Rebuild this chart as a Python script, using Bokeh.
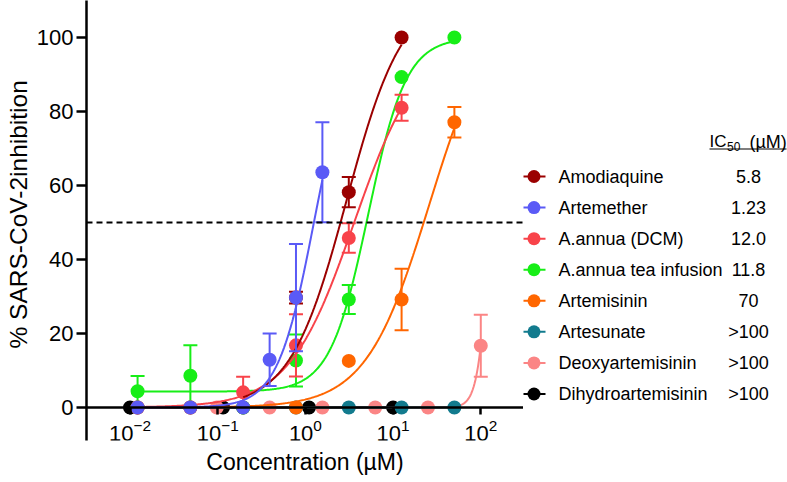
import numpy as np
from bokeh.plotting import figure
from bokeh.layouts import row
from bokeh.models import Range1d, FixedTicker, Span, Title
from bokeh.core.properties import value
from bokeh.embed import file_html
from bokeh.resources import INLINE

FONT = "Liberation Sans"

# ---------------- data ----------------
names = ["Amodiaquine", "Artemether", "A.annua (DCM)", "A.annua tea infusion",
         "Artemisinin", "Artesunate", "Deoxyartemisinin", "Dihydroartemisinin"]
ic50_text = ["5.8", "1.23", "12.0", "11.8", "70", ">100", ">100", ">100"]
colors = ["#9B0000", "#5A5AF6", "#F8434A", "#17EE17",
          "#FF6600", "#127B8E", "#FB8585", "#000000"]

amodiaquine_x = [0.781, 3.125, 12.5]
amodiaquine_y = [29.7, 58.2, 100]
amodiaquine_err = [1.6, 4.1, 0]

artemether_x = [0.0122, 0.0488, 0.195, 0.391, 0.781, 1.5625]
artemether_y = [0, 0, 0, 12.9, 29.7, 63.6]
artemether_err = [0, 0, 0, 7.1, 14.5, 13.5]

dcm_x = [0.0122, 0.0488, 0.195, 0.781, 3.125, 12.5]
dcm_y = [0, 0, 4.1, 16.8, 45.8, 81.0]
dcm_err = [0, 0, 4.2, 8.4, 4.0, 3.5]

tea_x = [0.0122, 0.0488, 0.195, 0.781, 3.125, 12.5, 50]
tea_y = [4.4, 8.6, 0, 12.7, 29.2, 89.3, 100]
tea_err = [4.1, 8.2, 0, 7.0, 3.9, 0, 0]

artemisinin_x = [0.0122, 0.0488, 0.195, 0.781, 3.125, 12.5, 50]
artemisinin_y = [0, 0, 0, 0, 12.6, 29.2, 77.1]
artemisinin_err = [0, 0, 0, 0, 0, 8.3, 4.1]

artesunate_x = [0.0122, 0.0488, 0.195, 0.781, 3.125, 12.5, 50]
artesunate_y = [0, 0, 0, 0, 0, 0, 0]
artesunate_err = [0, 0, 0, 0, 0, 0, 0]

deoxy_x = [0.0977, 0.391, 1.5625, 6.25, 25, 100]
deoxy_y = [0, 0, 0, 0, 0, 16.7]
deoxy_err = [0, 0, 0, 0, 0, 8.4]

dihydro_x = [0.01, 0.115, 1.1, 10]
dihydro_y = [0, 0, 0, 0]
dihydro_err = [0, 0, 0, 0]

# fitted dose-response curves as drawn: (x from, x to, bottom, top, EC50, Hill slope); None = flat
curve_fits = [(0.195, 12.5, 0, 112, 2.95, 1.35),
              (0.0122, 1.5625, 0, 100, 1.25, 2.1),
              (0.0122, 12.5, 0, 100, 3.6, 1.165),
              (0.0122, 50, 4.3, 100, 5.2, 2.0),
              (0.0122, 50, 0, 110, 26, 1.2),
              None,
              (0.0977, 100, 0, 100, 128, 6.5),
              None]

x_ticks = [0.01, 0.1, 1, 10, 100]
y_ticks = [0, 20, 40, 60, 80, 100]
threshold = 50

series = [
    (amodiaquine_x, amodiaquine_y, amodiaquine_err),
    (artemether_x, artemether_y, artemether_err),
    (dcm_x, dcm_y, dcm_err),
    (tea_x, tea_y, tea_err),
    (artemisinin_x, artemisinin_y, artemisinin_err),
    (artesunate_x, artesunate_y, artesunate_err),
    (deoxy_x, deoxy_y, deoxy_err),
    (dihydro_x, dihydro_y, dihydro_err),
]
# drawing order, bottom to top
draw_order = [7, 6, 5, 4, 3, 2, 0, 1]

# ---------------- layout calibration (page pixels) ----------------
X_PX_AT_1E_2, X_PX_PER_DEC = 125.0, 88.7
Y_PX_AT_0, Y_PX_PER_UNIT = 407.0, 3.7
FRAME_L, FRAME_R, FRAME_T, FRAME_B = 81, 523, 0, 440
W, H = 787, 482


def px_x(px):
    return 10 ** ((px - X_PX_AT_1E_2) / X_PX_PER_DEC - 2)


def px_y(py):
    return (Y_PX_AT_0 - py) / Y_PX_PER_UNIT


def hill(x, bottom, top, ec50, n):
    return bottom + (top - bottom) / (1 + (ec50 / x) ** n)


p = figure(width=FRAME_R, height=H, x_axis_type="log",
           x_range=Range1d(px_x(FRAME_L), px_x(FRAME_R)),
           y_range=Range1d(px_y(FRAME_B), px_y(FRAME_T)),
           output_backend="svg", toolbar_location=None,
           min_border_left=FRAME_L, min_border_right=0, min_border_top=FRAME_T,
           min_border_bottom=H - FRAME_B,
           outline_line_color=None, background_fill_color="white")
p.xgrid.visible = False
p.ygrid.visible = False

# y axis
ya = p.yaxis[0]
ya.ticker = FixedTicker(ticks=y_ticks)
ya.axis_line_width = 2.5
ya.axis_line_color = "black"
ya.major_tick_line_width = 2.5
ya.major_tick_in = 0
ya.major_tick_out = 10
ya.minor_tick_line_color = None
ya.major_label_text_font = FONT
ya.major_label_text_font_size = "22px"
ya.major_label_text_color = "black"
ya.major_label_standoff = 3

# x axis crossing at y = 0
xa = p.xaxis[0]
xa.fixed_location = 0
xa.ticker = FixedTicker(ticks=x_ticks)
xa.axis_line_width = 2.5
xa.axis_line_color = "black"
xa.major_tick_line_width = 2.5
xa.major_tick_in = 0
xa.major_tick_out = 7
xa.minor_tick_line_color = None
xa.major_label_text_font = FONT
xa.major_label_text_font_size = "22px"
xa.major_label_text_color = "black"
xa.major_label_standoff = 4

p.add_layout(Title(text="% SARS-CoV-2inhibition", align="left", offset=92, standoff=4,
                   text_font=FONT, text_font_size="24.5px", text_font_style="normal",
                   text_color="black"), "left")
p.add_layout(Title(text="Concentration (µM)", align="center", standoff=12,
                   text_font=FONT, text_font_size="23px", text_font_style="normal",
                   text_color="black"), "below")

p.add_layout(Span(location=threshold, dimension="width", line_color="black",
                  line_width=2, line_dash="6 4"))

for i in draw_order:
    xs, ys, es = series[i]
    c = colors[i]
    fit = curve_fits[i]
    if fit is None:
        cx, cy = xs, ys
    else:
        x0, x1, *params = fit
        cx = np.logspace(np.log10(x0), np.log10(x1), 300)
        cy = hill(cx, *params)
    p.line(cx, cy, line_color=c, line_width=2)
    ex = [x for x, e in zip(xs, es) if e > 0]
    lo = [y - e for y, e in zip(ys, es) if e > 0]
    hi = [y + e for y, e in zip(ys, es) if e > 0]
    if ex:
        p.segment(x0=ex, x1=ex, y0=lo, y1=hi, line_color=c, line_width=2)
        p.scatter(ex + ex, lo + hi, marker="dash", size=14, line_color=c, line_width=2)
    p.scatter(xs, ys, marker="circle", size=14, fill_color=c, line_color=None)

# ---------------- legend panel (page pixel coordinates; frame aligned with plot frame) ----------------
lg = figure(width=W - FRAME_R, height=H, x_range=Range1d(FRAME_R, W),
            y_range=Range1d(FRAME_B, FRAME_T),
            output_backend="svg", toolbar_location=None,
            x_axis_location=None, y_axis_location=None,
            min_border_left=0, min_border_right=0, min_border_top=FRAME_T,
            min_border_bottom=H - FRAME_B,
            outline_line_color=None, background_fill_color="white")
lg.xgrid.visible = False
lg.ygrid.visible = False

ROW0, ROW_STEP = 176.0, 31.07
rows = [ROW0 + k * ROW_STEP for k in range(len(names))]
lg.segment(x0=[522] * len(rows), x1=[545] * len(rows), y0=rows, y1=rows,
           line_color=colors, line_width=2)
lg.scatter([533.5] * len(rows), rows, marker="circle", size=13, fill_color=colors,
           line_color=None)
lg.text([558] * len(rows), rows, text=names, text_font=value(FONT),
        text_font_size=value("18px"), text_baseline="middle", text_align="left",
        text_color="black")
lg.text([748] * len(rows), rows, text=ic50_text, text_font=value(FONT),
        text_font_size=value("18px"), text_baseline="middle", text_align="center",
        text_color="black")
# header IC50 (µM), underlined
lg.text([709], [140.5], text=["IC"], text_font=value(FONT), text_font_size=value("17px"),
        text_baseline="middle", text_align="left", text_color="black")
lg.text([726.5], [146.0], text=["50"], text_font=value(FONT), text_font_size=value("12px"),
        text_baseline="middle", text_align="left", text_color="black")
lg.text([749], [141.0], text=["(µM)"], text_font=value(FONT), text_font_size=value("18px"),
        text_baseline="middle", text_align="left", text_color="black")
lg.segment(x0=[709], x1=[786], y0=[148.5], y1=[148.5], line_color="black", line_width=1.2)

layout = row(p, lg)
open("out.html", "w").write(file_html(layout, INLINE))
